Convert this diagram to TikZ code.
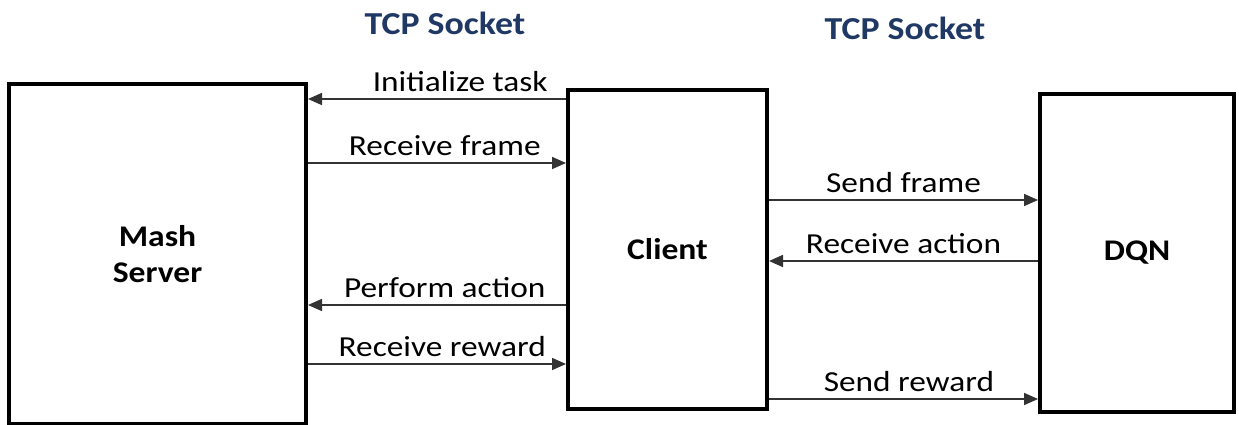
\documentclass[tikz,border=0pt]{standalone}
\usepackage{fontspec}
\setmainfont{Carlito}
\newfontfamily\lab[FakeStretch=1.15]{Carlito}
\newfontfamily\hd[FakeStretch=1.12]{Carlito}
\usetikzlibrary{arrows.meta}
\definecolor{navy}{HTML}{1F3864}
\definecolor{arrgray}{HTML}{333333}
\begin{document}
\begin{tikzpicture}[x=1pt,y=-1pt,
  box/.style={draw=black,line width=4pt,fill=white,inner sep=0pt,
    font=\hd\bfseries\fontsize{30}{34}\selectfont,align=center},
  arr/.style={draw=arrgray,line width=1.6pt,-{Triangle[length=14pt,width=12pt]}},
  lbl/.style={font=\lab\fontsize{29}{32}\selectfont,inner sep=6pt,above},
  ttl/.style={font=\hd\bfseries\fontsize{32}{36}\selectfont,text=navy}]
\useasboundingbox (0,0) rectangle (1239,425);
\node[box,minimum width=297pt,minimum height=340pt] (mash) at (157.5,254) {Mash\\[2pt]Server};
\node[box,minimum width=199pt,minimum height=319pt] (client) at (667.5,249.5) {Client};
\node[box,minimum width=194pt,minimum height=318pt] (dqn) at (1137,253) {DQN};
\node[ttl] (t1) at (445,23) {TCP Socket};
\node[ttl] (t2) at (905,28) {TCP Socket};
\draw[arr] (client.west |- 0,99) -- node[lbl,pos=0.41] {Initialize task} (mash.east |- 0,99);
\draw[arr] (mash.east |- 0,163) -- node[lbl,pos=0.53] {Receive frame} (client.west |- 0,163);
\draw[arr] (client.west |- 0,305) -- node[lbl,pos=0.47] {Perform action} (mash.east |- 0,305);
\draw[arr] (mash.east |- 0,364) -- node[lbl,pos=0.52] {Receive reward} (client.west |- 0,364);
\draw[arr] (client.east |- 0,200) -- node[lbl] {Send frame} (dqn.west |- 0,200);
\draw[arr] (dqn.west |- 0,261) -- node[lbl] {Receive action} (client.east |- 0,261);
\draw[arr] (client.east |- 0,399) -- node[lbl,pos=0.52] {Send reward} (dqn.west |- 0,399);
\end{tikzpicture}
\end{document}
